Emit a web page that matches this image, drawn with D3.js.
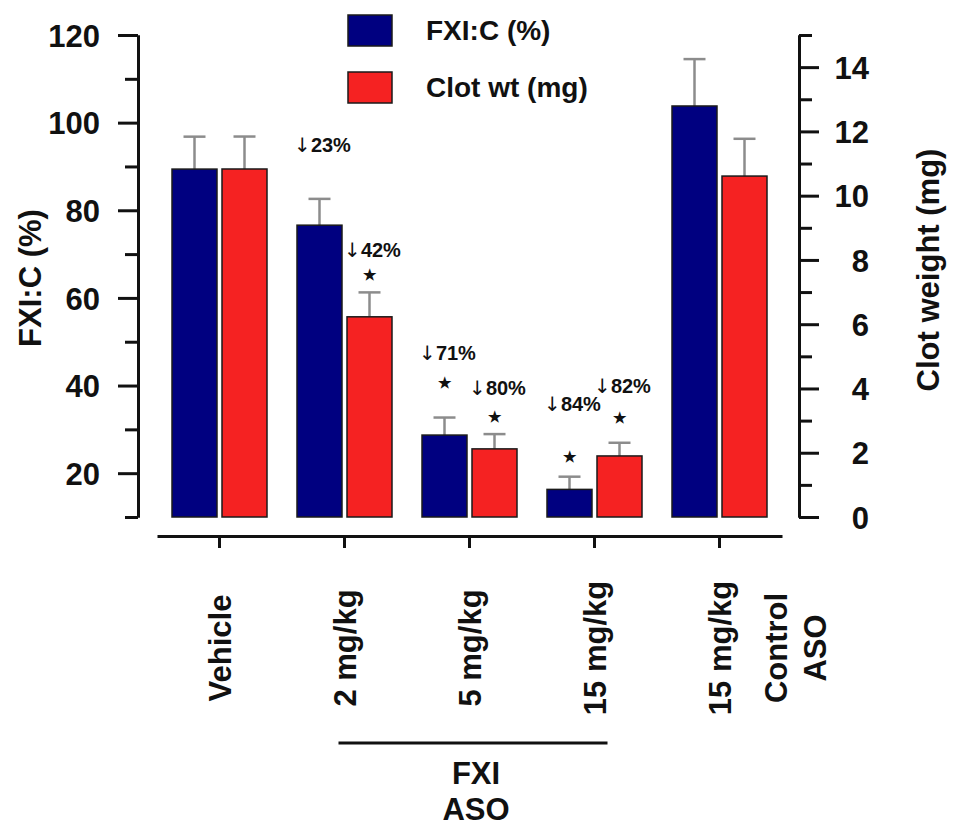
<!DOCTYPE html>
<html lang="en">

<head>
    <meta charset="utf-8" />
    <title>FXI ASO: FXI:C and clot weight</title>
    <script src="https://d3js.org/d3.v7.min.js"></script>
    <style>
        body {
            margin: 0;
            background: #fff;
        }

        svg text {
            font-family: "Liberation Sans", Arial, sans-serif;
            font-weight: bold;
            fill: #111;
        }

        .axis path,
        .axis line {
            stroke: #111;
            stroke-width: 3;
        }
    </style>
</head>

<body>
    <script>
        // Data
        const groups = ["Vehicle", "2 mg/kg", "5 mg/kg", "15 mg/kg", "Control 15 mg/kg"];
        const groupLabels = [["Vehicle"], ["2 mg/kg"], ["5 mg/kg"], ["15 mg/kg"], ["15 mg/kg", "Control", "ASO"]];
        const fxiValues = [89.4, 76.6, 28.7, 16.3, 103.8];   // FXI:C (%)
        const fxiErrors = [7.4, 6.0, 4.0, 2.9, 10.7];
        const clotValues = [10.83, 6.23, 2.12, 1.90, 10.61]; // Clot wt (mg)
        const clotErrors = [1.01, 0.76, 0.46, 0.41, 1.16];
        const leftTicks = [20, 40, 60, 80, 100, 120];
        const leftMinor = [10, 30, 50, 70, 90, 110];
        const rightTicks = [0, 2, 4, 6, 8, 10, 12, 14];
        const rightMinor = [1, 3, 5, 7, 9, 11, 13, 15];
        // reductions vs vehicle; y given in FXI:C (%) units
        const annotations = [
            { group: "2 mg/kg", series: "fxi", text: "23%", textY: 93.3, starY: null },
            { group: "2 mg/kg", series: "clot", text: "42%", textY: 69.3, starY: 65.5 },
            { group: "5 mg/kg", series: "fxi", text: "71%", textY: 45.8, starY: 40.8 },
            { group: "5 mg/kg", series: "clot", text: "80%", textY: 37.8, starY: 33.0 },
            { group: "15 mg/kg", series: "fxi", text: "84%", textY: 34.2, starY: 23.9 },
            { group: "15 mg/kg", series: "clot", text: "82%", textY: 38.3, starY: 32.8 }
        ];

        const colors = { fxi: "#000080", clot: "#f52222" };

        const svg = d3.select("body").append("svg")
            .attr("width", 954)
            .attr("height", 825);

        // Scales
        const x = d3.scaleBand().domain(groups).range([157, 782]);
        const xs = d3.scaleBand().domain(["fxi", "clot"]).range([-47.5, 47.5]).paddingInner(0.1);
        const yL = d3.scaleLinear().domain([10, 120]).range([517, 35]);
        const yR = d3.scaleLinear().domain([0, 15]).range([517, 35]);
        const cx = (g) => x(g) + x.bandwidth() / 2;

        // Left axis
        svg.append("g").attr("class", "axis")
            .attr("transform", "translate(138,0)")
            .call(d3.axisLeft(yL).tickValues(leftMinor).tickSize(13).tickSizeOuter(0).tickFormat(""));
        const gL = svg.append("g").attr("class", "axis")
            .attr("transform", "translate(138,0)")
            .call(d3.axisLeft(yL).tickValues(leftTicks).tickSize(20).tickSizeOuter(0).tickPadding(18));
        gL.selectAll("text").attr("font-size", 31).attr("dy", "0.36em");

        // Right axis
        svg.append("g").attr("class", "axis")
            .attr("transform", "translate(799,0)")
            .call(d3.axisRight(yR).tickValues(rightMinor).tickSize(13).tickSizeOuter(0).tickFormat(""));
        const gR = svg.append("g").attr("class", "axis")
            .attr("transform", "translate(799,0)")
            .call(d3.axisRight(yR).tickValues(rightTicks).tickSize(20).tickSizeOuter(0));
        gR.selectAll("text").attr("font-size", 31).attr("dy", "0.36em")
            .attr("x", 70).attr("text-anchor", "end");

        // Bottom axis
        svg.append("g").attr("class", "axis")
            .attr("transform", "translate(0,536)")
            .call(d3.axisBottom(x).tickSize(12).tickSizeOuter(0).tickFormat(""));

        // Axis titles
        svg.append("text")
            .attr("transform", "translate(41,278) rotate(-90)")
            .attr("text-anchor", "middle")
            .attr("font-size", 31)
            .text("FXI:C (%)");
        svg.append("text")
            .attr("transform", "translate(939,270) rotate(-90)")
            .attr("text-anchor", "middle")
            .attr("font-size", 31)
            .text("Clot weight (mg)");

        // Bars
        const rows = groups.map((g, i) => [
            { group: g, series: "fxi", v: fxiValues[i], e: fxiErrors[i], y: yL, base: 10 },
            { group: g, series: "clot", v: clotValues[i], e: clotErrors[i], y: yR, base: 0 }
        ]).flat();

        const bar = svg.append("g").selectAll("g")
            .data(rows)
            .join("g")
            .attr("transform", (d) => `translate(${cx(d.group) + xs(d.series)},0)`);

        // error bars (upper only)
        bar.append("line")
            .attr("x1", xs.bandwidth() / 2).attr("x2", xs.bandwidth() / 2)
            .attr("y1", (d) => d.y(d.v)).attr("y2", (d) => d.y(d.v + d.e))
            .attr("stroke", "#8c8c8c").attr("stroke-width", 2.5);
        bar.append("line")
            .attr("x1", xs.bandwidth() / 2 - 11).attr("x2", xs.bandwidth() / 2 + 11)
            .attr("y1", (d) => d.y(d.v + d.e)).attr("y2", (d) => d.y(d.v + d.e))
            .attr("stroke", "#8c8c8c").attr("stroke-width", 2.5);

        bar.append("rect")
            .attr("x", 0)
            .attr("width", xs.bandwidth())
            .attr("y", (d) => d.y(d.v))
            .attr("height", (d) => d.y(d.base) - d.y(d.v))
            .attr("fill", (d) => colors[d.series])
            .attr("stroke", "#1a1a1a")
            .attr("stroke-width", 1.5);

        // Annotations
        const ann = svg.append("g").selectAll("g")
            .data(annotations)
            .join("g")
            .attr("transform", (d) => `translate(${cx(d.group) + xs(d.series) + xs.bandwidth() / 2},0)`);
        const annText = ann.append("text")
            .attr("x", 3)
            .attr("y", (d) => yL(d.textY))
            .attr("text-anchor", "middle")
            .attr("font-size", 20);
        annText.append("tspan").attr("font-weight", "normal").attr("font-family", "DejaVu Sans").attr("font-size", 20).text("\u2193");
        annText.append("tspan").text((d) => d.text);
        ann.filter((d) => d.starY !== null).append("text")
            .attr("y", (d) => yL(d.starY))
            .attr("dy", "0.38em")
            .attr("text-anchor", "middle")
            .attr("font-family", "DejaVu Sans")
            .attr("font-size", 15)
            .text("\u2605");

        // Category labels (rotated)
        const offsets = [11, 67, 106];
        groups.forEach((g, i) => {
            groupLabels[i].forEach((line, j) => {
                svg.append("text")
                    .attr("transform", `translate(${cx(g) + offsets[j]},648) rotate(-90)`)
                    .attr("text-anchor", "middle")
                    .attr("font-size", 31)
                    .text(line);
            });
        });

        // FXI ASO bracket
        svg.append("line")
            .attr("x1", cx("2 mg/kg") - 6).attr("x2", cx("15 mg/kg") + 13)
            .attr("y1", 743).attr("y2", 743)
            .attr("stroke", "#111").attr("stroke-width", 3);
        const mid = (cx("2 mg/kg") - 6 + cx("15 mg/kg") + 13) / 2;
        svg.append("text").attr("x", mid + 3).attr("y", 784)
            .attr("text-anchor", "middle").attr("font-size", 31).text("FXI");
        svg.append("text").attr("x", mid + 3).attr("y", 820)
            .attr("text-anchor", "middle").attr("font-size", 31).text("ASO");

        // Legend
        const legend = svg.append("g").selectAll("g")
            .data([{ key: "fxi", label: "FXI:C (%)" }, { key: "clot", label: "Clot wt (mg)" }])
            .join("g")
            .attr("transform", (d, i) => `translate(348,${15 + i * 57})`);
        legend.append("rect")
            .attr("width", 44).attr("height", 31)
            .attr("fill", (d) => colors[d.key])
            .attr("stroke", "#1a1a1a").attr("stroke-width", 1.5);
        legend.append("text")
            .attr("x", 78).attr("y", 25)
            .attr("font-size", 28)
            .text((d) => d.label);
    </script>
</body>

</html>
